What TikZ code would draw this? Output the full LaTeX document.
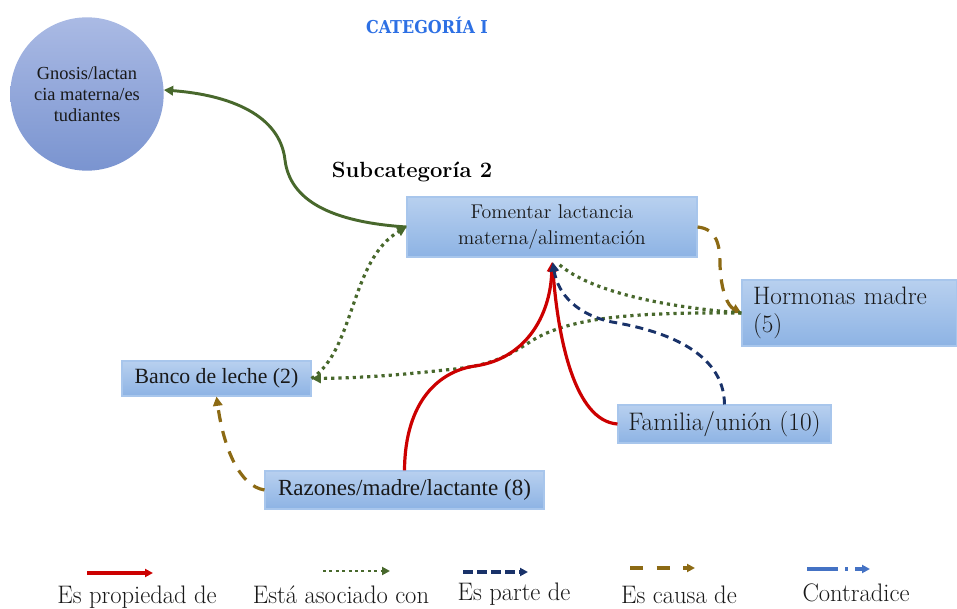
\documentclass[tikz,border=0pt]{standalone}
\usepackage{fontspec}
\usepackage{graphicx}
\newfontfamily\timesf{Liberation Serif}
\newfontfamily\ttlf{DejaVu Serif Condensed}
\usetikzlibrary{arrows.meta}
\definecolor{boxtop}{RGB}{184,208,239}
\definecolor{boxbot}{RGB}{141,179,228}
\definecolor{boxline}{RGB}{168,198,236}
\definecolor{circtop}{RGB}{170,186,228}
\definecolor{circbot}{RGB}{122,148,208}
\definecolor{gr}{RGB}{72,104,44}
\definecolor{rd}{RGB}{204,0,0}
\definecolor{nv}{RGB}{25,50,105}
\definecolor{gd}{RGB}{140,106,20}
\definecolor{bl}{RGB}{68,114,196}
\definecolor{ttl}{RGB}{45,112,228}
\begin{document}
\begin{tikzpicture}[x=0.75pt,y=-0.75pt,
 box/.style={draw=boxline, line width=0.8pt, top color=boxtop, bottom color=boxbot, inner sep=0pt, text=black!90},
 tip/.style={-{Triangle[length=7pt,width=7pt]}},
 stip/.style={-{Triangle[length=6pt,width=6pt]}},
 prop/.style={draw=rd, line width=2.4pt},
 asoc/.style={draw=gr, line width=2.4pt, dash pattern=on 2.4pt off 3pt},
 parte/.style={draw=nv, line width=2.2pt, dash pattern=on 6pt off 4pt},
 causa/.style={draw=gd, line width=2.4pt, dash pattern=on 9pt off 7pt},
 solidg/.style={draw=gr, line width=2.2pt},
 legtext/.style={anchor=base, inner sep=0pt, font=\fontsize{19}{23}\selectfont, text=black!90}
]
\useasboundingbox (0,0) rectangle (957,609);

% title texts
\node[font=\ttlf\bfseries\fontsize{13.3}{16}\selectfont, text=ttl, inner sep=0pt] (title) at (427,25) {CATEGORÍA I};
\node[font=\bfseries\fontsize{16.5}{20}\selectfont, inner sep=0pt] (sub) at (412,172) {Subcategoría 2};

% nodes
\node[circle, minimum size=115pt, top color=circtop, bottom color=circbot, draw=none, align=center, text=black!90,
      font=\timesf\fontsize{13.8}{15.75}\selectfont] (circ) at (87,94) {Gnosis/lactan\\cia materna/es\\tudiantes};
\node[box, minimum width=217.5pt, minimum height=45pt, align=center, font=\fontsize{14.9}{19.5}\selectfont] (fom) at (552,227) {Fomentar lactancia\\materna/alimentación};
\node[box, minimum width=161.25pt, minimum height=49.5pt, text width=144.75pt, inner xsep=8.25pt, align=left, font=\fontsize{18.9}{21}\selectfont] (hor) at (849.5,313) {Hormonas madre\\(5)};
\node[box, minimum width=141.75pt, minimum height=26.25pt, font=\timesf\fontsize{16.3}{19}\selectfont] (ban) at (216.5,378.5) {Banco de leche (2)};
\node[box, minimum width=159.75pt, minimum height=28.5pt, font=\fontsize{19}{21}\selectfont] (fam) at (724.5,424) {Familia/unión (10)};
\node[box, minimum width=209.25pt, minimum height=28.5pt, font=\timesf\fontsize{17.3}{20}\selectfont] (raz) at (404.5,490) {Razones/madre/lactante (8)};

% connectors
\draw[causa, tip] (fom.east) .. controls (717,229) and (720,245) .. (720,265) .. controls (721,292) and (728,306) .. (hor.west);
\draw[causa, tip] (raz.west) .. controls (240,486) and (224,450) .. (ban.south);
\draw[asoc, shorten >=5pt] (hor.west) .. controls (640,305) and (580,285) .. (fom.south);
\draw[asoc, tip] (hor.west) .. controls (630,312) and (570,318) .. (533,340) .. controls (505,358) and (490,366) .. (445,370) .. controls (400,375) and (360,378) .. (ban.east);
\draw[asoc, tip] (ban.east) .. controls (355,350) and (350,260) .. (fom.west);
\draw[prop, tip, shorten >=3.5pt] (raz.north) .. controls (405,400) and (440,371) .. (475,366) .. controls (530,358) and (551,310) .. (fom.south);
\draw[prop, tip, shorten >=3.5pt] (fam.west) .. controls (575,421) and (558,340) .. (fom.south);
\draw[parte, tip, shorten >=3.5pt] (fam.north) .. controls (724,350) and (660,330) .. (612,322) .. controls (578,315) and (558,295) .. (fom.south);
\draw[solidg, tip] (fom.west) .. controls (330,222) and (290,200) .. (285,160) .. controls (280,115) and (230,95) .. (circ.3);

% legend
\coordinate (l1a) at (87,573);  \coordinate (l1b) at (153,573);
\coordinate (l2a) at (323,571); \coordinate (l2b) at (390,571);
\coordinate (l3a) at (463,572); \coordinate (l3b) at (528,572);
\coordinate (l4a) at (630,568); \coordinate (l4b) at (695,568);
\coordinate (l5a) at (807,569); \coordinate (l5b) at (870,569);
\draw[prop, stip] (l1a) -- (l1b);
\draw[asoc, line width=2.2pt, dash pattern=on 2.2pt off 2.6pt, stip] (l2a) -- (l2b);
\draw[parte, line width=2.4pt, dash pattern=on 7.5pt off 3pt, stip] (l3a) -- (l3b);
\draw[causa, dash pattern=on 10pt off 10pt, stip] (l4a) -- (l4b);
\draw[draw=bl, line width=2.4pt, dash pattern=on 23pt off 5.5pt on 2pt off 5.5pt, stip] (l5a) -- (l5b);

\node[legtext] (t1) at (137,603) {\scalebox{0.97}[1]{Es propiedad de}};
\node[legtext] (t2) at (341,603) {\scalebox{0.97}[1]{Está asociado con}};
\node[legtext] (t3) at (514,600) {\scalebox{0.97}[1]{Es parte de}};
\node[legtext] (t4) at (679,603) {\scalebox{0.97}[1]{Es causa de}};
\node[legtext] (t5) at (856,601) {\scalebox{0.97}[1]{Contradice}};
\end{tikzpicture}
\end{document}
